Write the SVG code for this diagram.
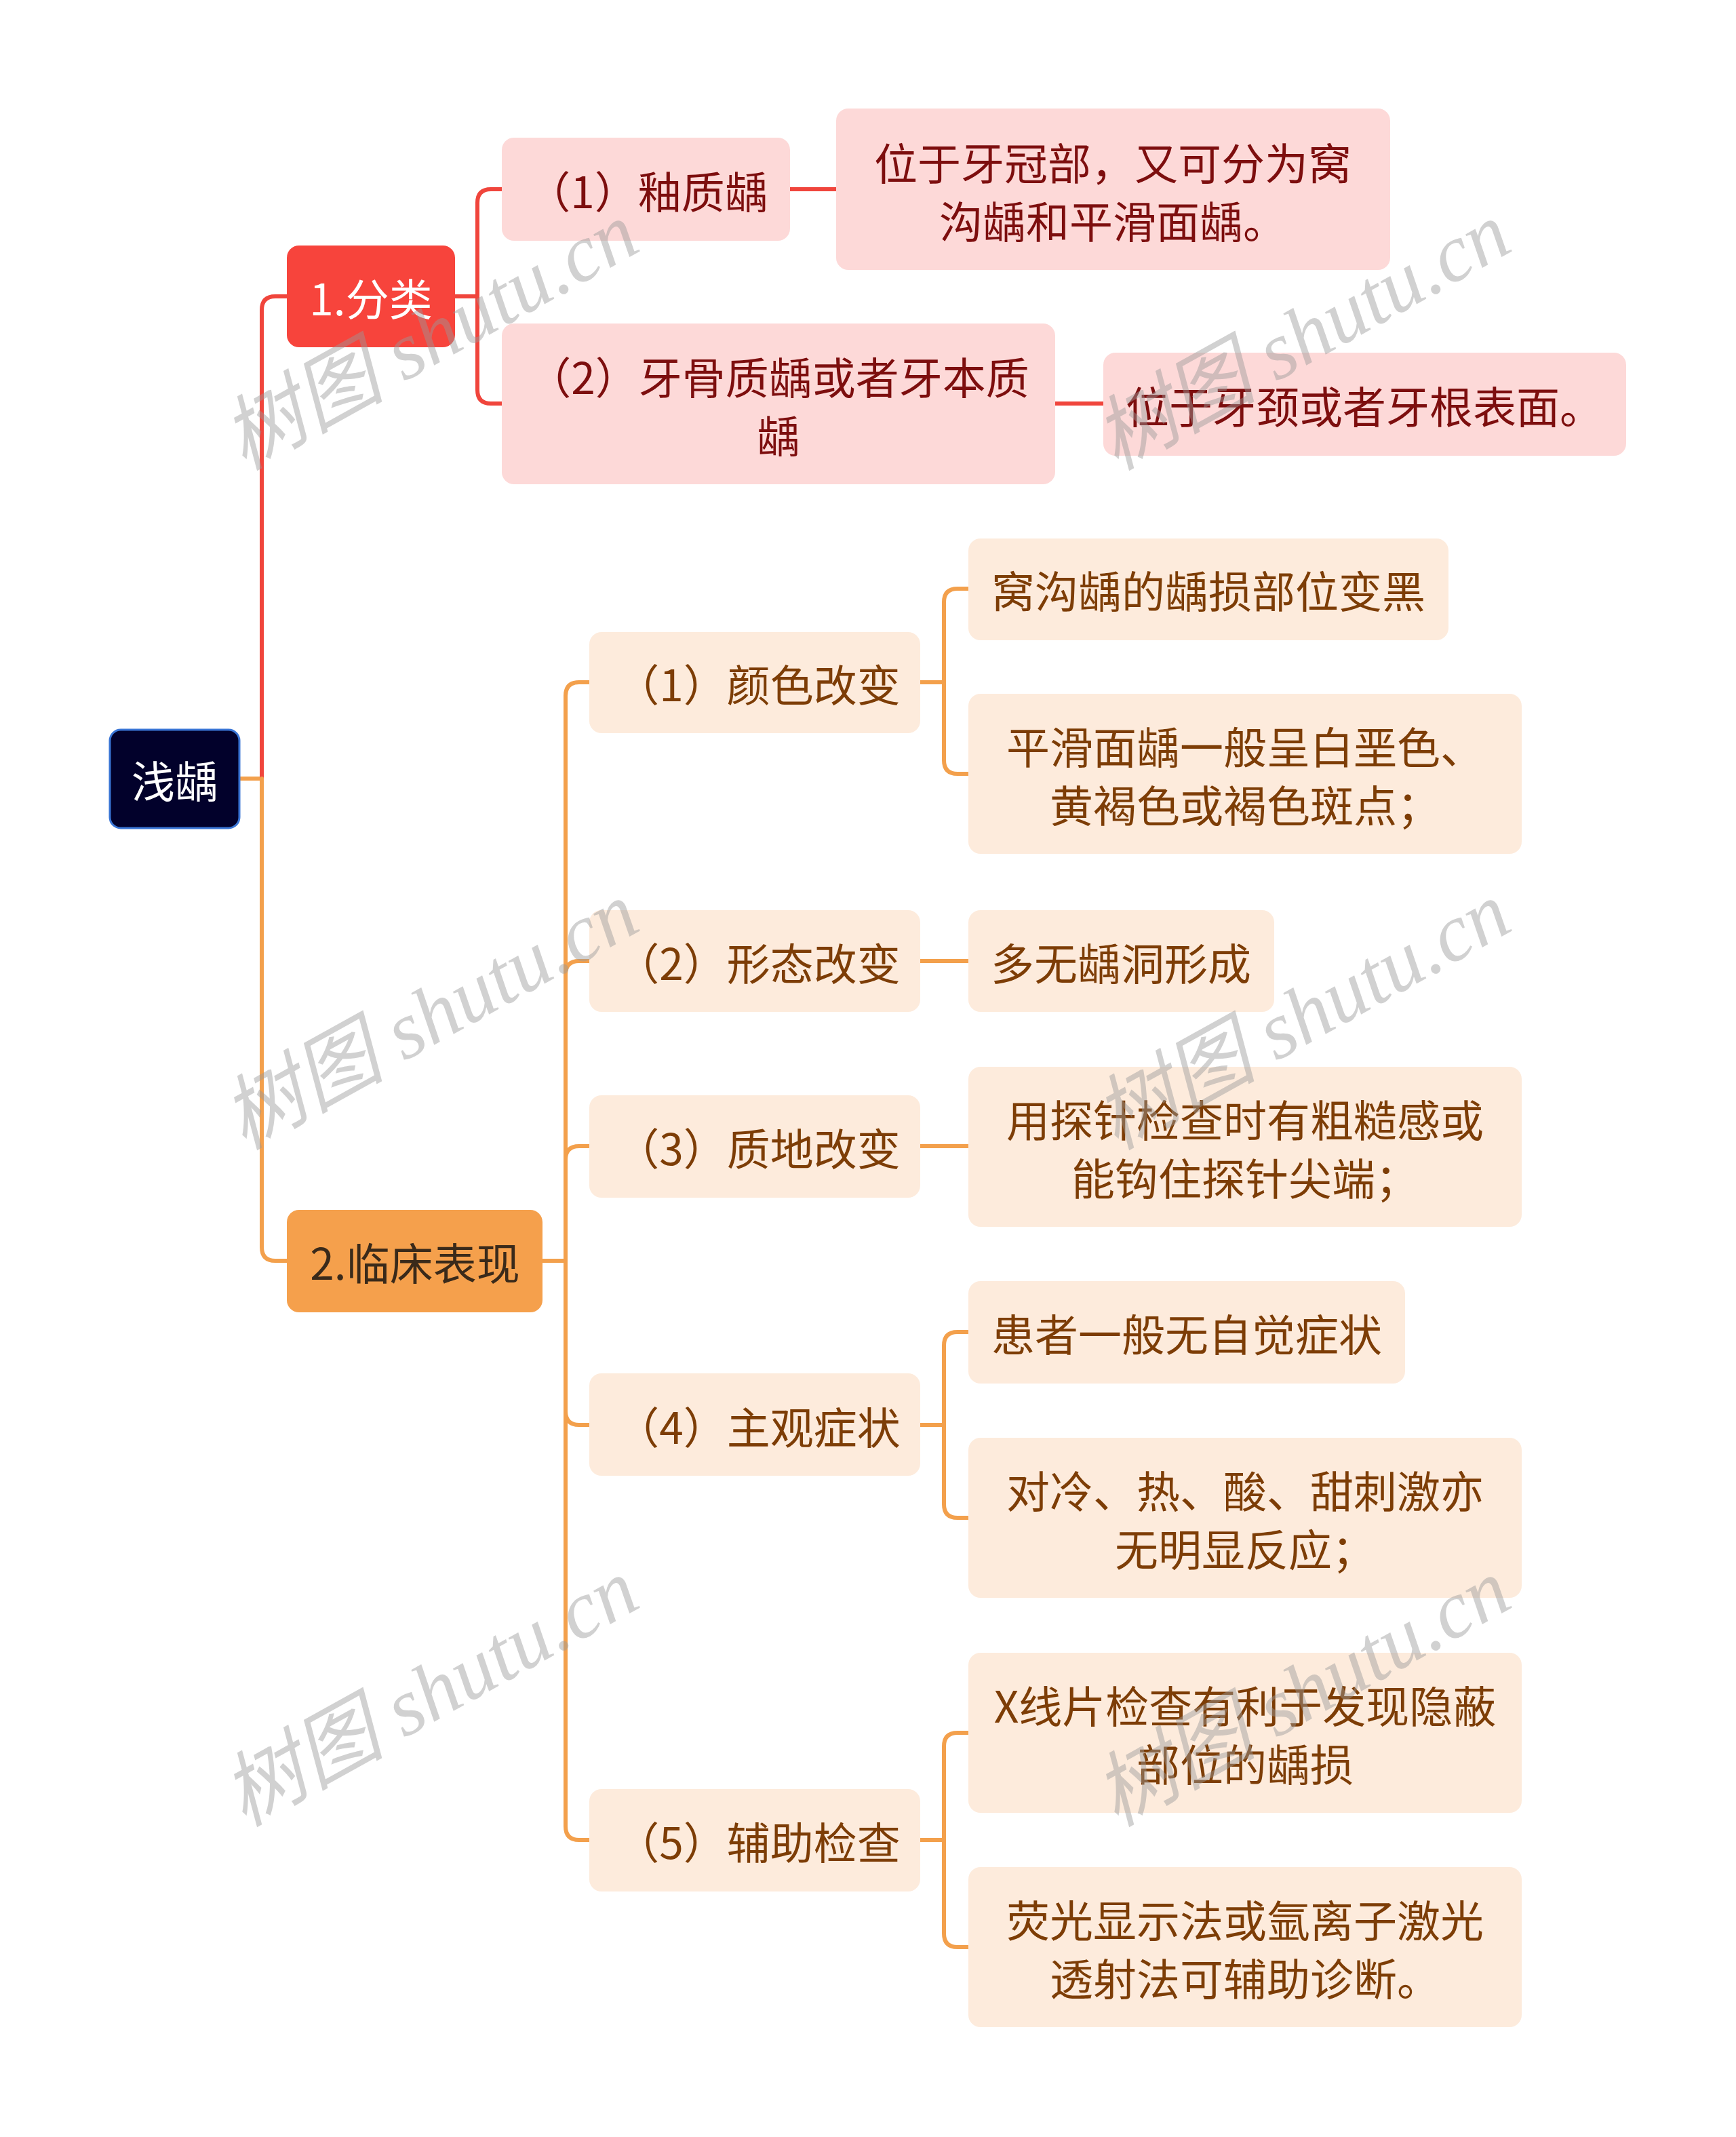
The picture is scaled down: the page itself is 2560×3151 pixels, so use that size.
<svg xmlns="http://www.w3.org/2000/svg" width="2560" height="3151" viewBox="0 0 2560 3151">
<style>
text{font-family:"Noto Sans CJK SC","Liberation Sans",sans-serif;font-size:64px;text-anchor:middle;dominant-baseline:central}
.rl{fill:#fdd9d8}
.ol{fill:#fdebdc}
.rt{fill:#7d0e0e}
.ot{fill:#7d3d06}
.cr{fill:none;stroke:#f0453c;stroke-width:6;stroke-linecap:round}
.co{fill:none;stroke:#f3a04c;stroke-width:6;stroke-linecap:round}
.wm{font-family:"Liberation Serif","Noto Sans CJK SC",serif;font-style:italic;font-size:120px;fill:#9a9a9a;opacity:0.45;dominant-baseline:alphabetic}
</style>
<rect width="2560" height="3151" fill="#ffffff"/>
<g id="connectors">
<path class="co" d="M354,1148 H386"/>
<path class="cr" d="M386,1148 V457 Q386,437 406,437 H424"/>
<path class="co" d="M386,1148 V1839 Q386,1859 406,1859 H424"/>
<path class="cr" d="M671,437 H704"/>
<path class="cr" d="M704,437 V299 Q704,279 724,279 H740"/>
<path class="cr" d="M704,437 V575 Q704,595 724,595 H740"/>
<path class="cr" d="M1165,279 H1233"/>
<path class="cr" d="M1556,595 H1627"/>
<path class="co" d="M800,1859 H834"/>
<path class="co" d="M834,1859 V1026 Q834,1006 854,1006 H869"/>
<path class="co" d="M834,1859 V1437 Q834,1417 854,1417 H869"/>
<path class="co" d="M834,1859 V1710 Q834,1690 854,1690 H869"/>
<path class="co" d="M834,1859 V2081 Q834,2101 854,2101 H869"/>
<path class="co" d="M834,1859 V2693 Q834,2713 854,2713 H869"/>
<path class="co" d="M1357,1006 H1392"/>
<path class="co" d="M1392,1006 V888 Q1392,868 1412,868 H1428"/>
<path class="co" d="M1392,1006 V1121 Q1392,1141 1412,1141 H1428"/>
<path class="co" d="M1357,1417 H1428"/>
<path class="co" d="M1357,1690 H1428"/>
<path class="co" d="M1357,2101 H1392"/>
<path class="co" d="M1392,2101 V1984 Q1392,1964 1412,1964 H1428"/>
<path class="co" d="M1392,2101 V2218 Q1392,2238 1412,2238 H1428"/>
<path class="co" d="M1357,2713 H1392"/>
<path class="co" d="M1392,2713 V2575 Q1392,2555 1412,2555 H1428"/>
<path class="co" d="M1392,2713 V2851 Q1392,2871 1412,2871 H1428"/>
</g>
<g id="root">
<rect x="162" y="1076" width="191" height="145" rx="16" fill="#02012b" stroke="#3a76d6" stroke-width="3"/>
<text x="258" y="1148" fill="#ffffff">浅龋</text>
</g>
<g id="n1">
<rect x="423" y="362" width="248" height="150" rx="18" fill="#f7443c"/>
<text x="547" y="437" fill="#ffffff">1.分类</text>
</g>
<g id="n1-1">
<rect class="rl" x="740" y="203" width="425" height="152" rx="18"/>
<text class="rt" x="955" y="279">（1）釉质龋</text>
</g>
<g id="n1-1-1">
<rect class="rl" x="1233" y="160" width="817" height="238" rx="18"/>
<text class="rt" x="1641" y="237">位于牙冠部，又可分为窝</text>
<text class="rt" x="1641" y="323">沟龋和平滑面龋。</text>
</g>
<g id="n1-2">
<rect class="rl" x="740" y="477" width="816" height="237" rx="18"/>
<text class="rt" x="1148" y="553">（2）牙骨质龋或者牙本质</text>
<text class="rt" x="1148" y="639">龋</text>
</g>
<g id="n1-2-1">
<rect class="rl" x="1627" y="520" width="771" height="152" rx="18"/>
<text class="rt" x="2012" y="596">位于牙颈或者牙根表面。</text>
</g>
<g id="n2">
<rect x="423" y="1784" width="377" height="151" rx="18" fill="#f5a04c"/>
<text x="612" y="1859" fill="#3a2a1a">2.临床表现</text>
</g>
<g id="n2-1">
<rect class="ol" x="869" y="932" width="488" height="149" rx="18"/>
<text class="ot" x="1118" y="1006">（1）颜色改变</text>
</g>
<g id="n2-1-1">
<rect class="ol" x="1428" y="794" width="708" height="150" rx="18"/>
<text class="ot" x="1782" y="868">窝沟龋的龋损部位变黑</text>
</g>
<g id="n2-1-2">
<rect class="ol" x="1428" y="1023" width="816" height="236" rx="18"/>
<text class="ot" x="1836" y="1098">平滑面龋一般呈白垩色、</text>
<text class="ot" x="1836" y="1184">黄褐色或褐色斑点；</text>
</g>
<g id="n2-2">
<rect class="ol" x="869" y="1342" width="488" height="150" rx="18"/>
<text class="ot" x="1118" y="1417">（2）形态改变</text>
</g>
<g id="n2-2-1">
<rect class="ol" x="1428" y="1342" width="451" height="150" rx="18"/>
<text class="ot" x="1653" y="1417">多无龋洞形成</text>
</g>
<g id="n2-3">
<rect class="ol" x="869" y="1615" width="488" height="151" rx="18"/>
<text class="ot" x="1118" y="1690">（3）质地改变</text>
</g>
<g id="n2-3-1">
<rect class="ol" x="1428" y="1573" width="816" height="236" rx="18"/>
<text class="ot" x="1836" y="1648">用探针检查时有粗糙感或</text>
<text class="ot" x="1836" y="1734">能钩住探针尖端；</text>
</g>
<g id="n2-4">
<rect class="ol" x="869" y="2025" width="488" height="151" rx="18"/>
<text class="ot" x="1118" y="2101">（4）主观症状</text>
</g>
<g id="n2-4-1">
<rect class="ol" x="1428" y="1889" width="644" height="151" rx="18"/>
<text class="ot" x="1750" y="1964">患者一般无自觉症状</text>
</g>
<g id="n2-4-2">
<rect class="ol" x="1428" y="2120" width="816" height="236" rx="18"/>
<text class="ot" x="1836" y="2195">对冷、热、酸、甜刺激亦</text>
<text class="ot" x="1836" y="2281">无明显反应；</text>
</g>
<g id="n2-5">
<rect class="ol" x="869" y="2638" width="488" height="151" rx="18"/>
<text class="ot" x="1118" y="2713">（5）辅助检查</text>
</g>
<g id="n2-5-1">
<rect class="ol" x="1428" y="2437" width="816" height="236" rx="18"/>
<text class="ot" x="1836" y="2512">X线片检查有利于发现隐蔽</text>
<text class="ot" x="1836" y="2598">部位的龋损</text>
</g>
<g id="n2-5-2">
<rect class="ol" x="1428" y="2753" width="816" height="236" rx="18"/>
<text class="ot" x="1836" y="2828">荧光显示法或氩离子激光</text>
<text class="ot" x="1836" y="2914">透射法可辅助诊断。</text>
</g>
<g id="watermarks">
<text class="wm" x="654" y="531" transform="rotate(-29 654 531)">树图 shutu.cn</text>
<text class="wm" x="1940" y="531" transform="rotate(-29 1940 531)">树图 shutu.cn</text>
<text class="wm" x="654" y="1533" transform="rotate(-29 654 1533)">树图 shutu.cn</text>
<text class="wm" x="1940" y="1533" transform="rotate(-29 1940 1533)">树图 shutu.cn</text>
<text class="wm" x="654" y="2531" transform="rotate(-29 654 2531)">树图 shutu.cn</text>
<text class="wm" x="1940" y="2531" transform="rotate(-29 1940 2531)">树图 shutu.cn</text>
</g>
</svg>
